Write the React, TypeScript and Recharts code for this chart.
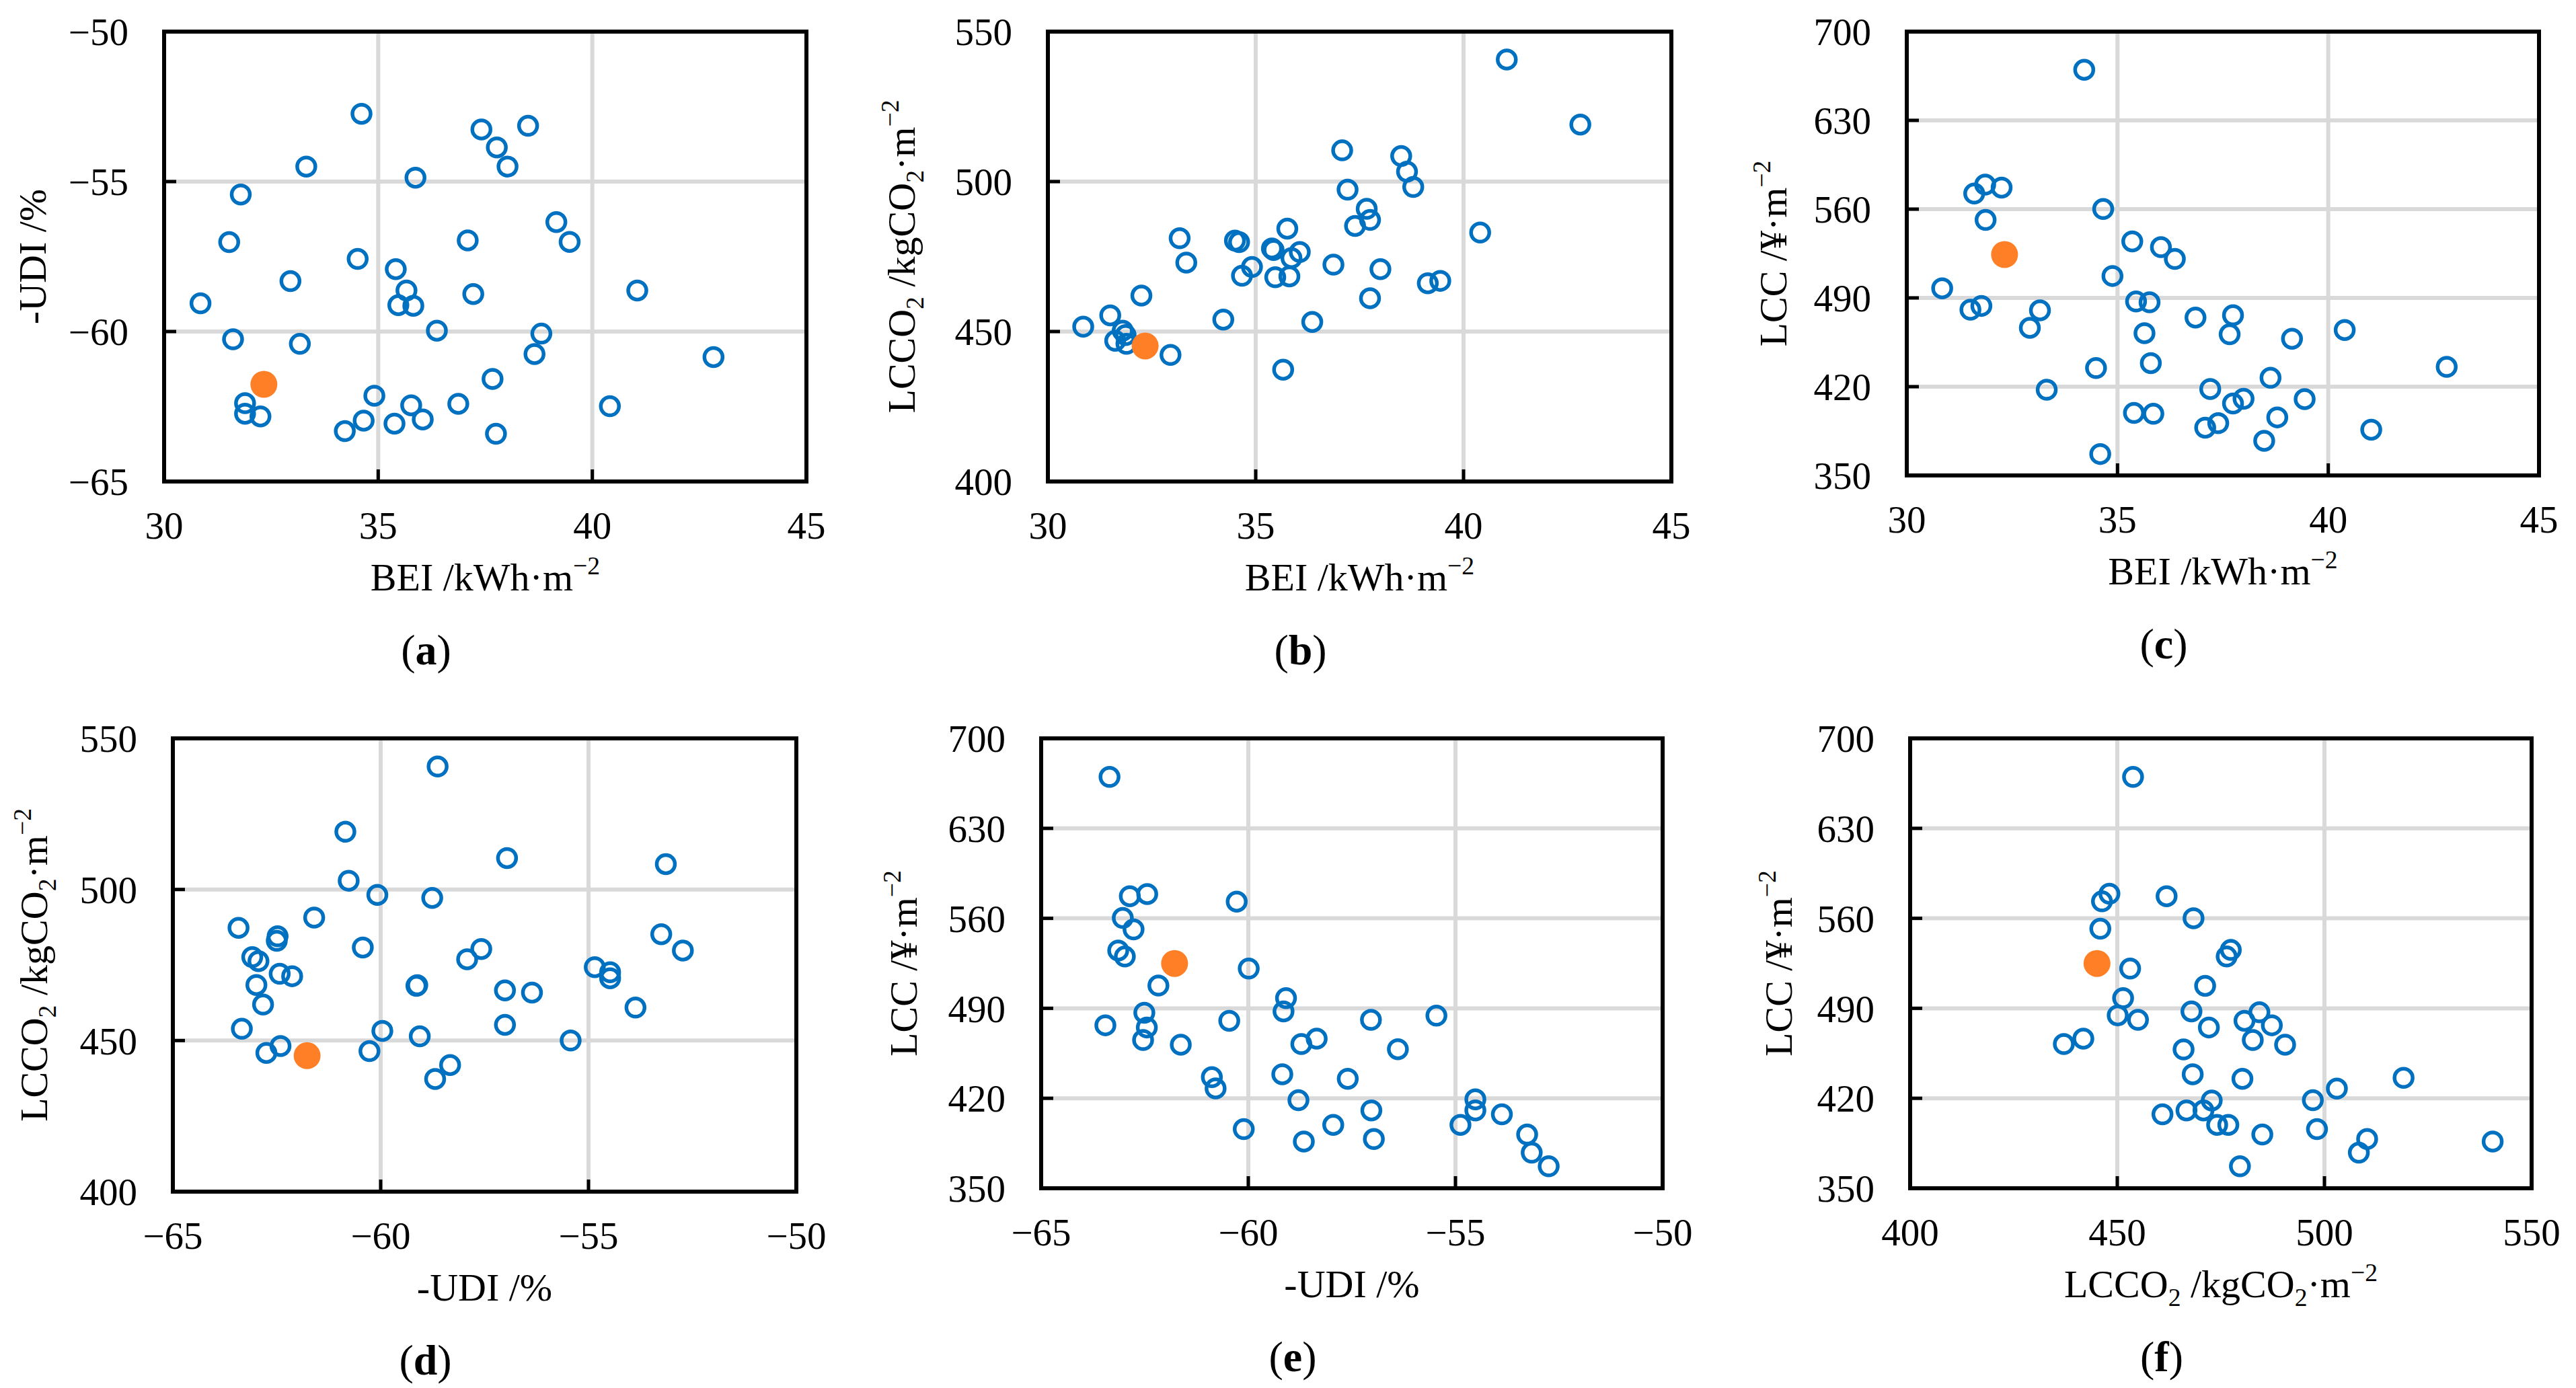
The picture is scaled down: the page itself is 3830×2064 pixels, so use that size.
import { CartesianGrid, ReferenceArea, Scatter, ScatterChart, XAxis, YAxis } from "recharts";

const FONT = '"Liberation Serif", "Times New Roman", serif';
const BLUE = "#0070C0";
const ORANGE = "#FF7F27";

// (a) BEI vs -UDI
const aBEI = [34.61, 37.41, 38.5, 37.77, 38.02, 33.32, 35.87, 31.79, 39.16, 31.52, 37.09, 39.47, 34.52, 35.41, 32.95, 35.66, 37.22, 41.05, 30.85, 35.47, 35.82, 36.37, 38.81, 31.61, 33.17, 38.65, 42.83, 37.67, 34.91, 31.89, 31.89, 32.25, 35.77, 36.87, 40.41, 34.66, 36.04, 35.38, 34.22, 37.75];
const aUDI = [-52.74, -53.26, -53.14, -53.86, -54.5, -54.5, -54.87, -55.43, -56.35, -57.02, -56.96, -57.01, -57.58, -57.92, -58.32, -58.63, -58.75, -58.63, -59.06, -59.12, -59.14, -59.97, -60.07, -60.26, -60.41, -60.75, -60.85, -61.58, -62.14, -62.39, -62.74, -62.83, -62.46, -62.41, -62.49, -62.97, -62.93, -63.07, -63.32, -63.41];
const aBase = [32.33, -61.76];

// (b) BEI vs LCCO2
const bBEI = [41.04, 42.81, 37.08, 38.5, 38.64, 38.79, 37.21, 37.67, 37.75, 37.39, 35.76, 33.17, 34.5, 34.6, 40.4, 35.39, 35.43, 36.06, 35.86, 33.33, 34.91, 36.87, 38.0, 34.67, 35.47, 35.81, 39.14, 39.44, 37.75, 32.25, 31.5, 34.22, 36.36, 30.85, 31.8, 31.87, 31.62, 31.89, 32.95, 35.66];
const bLCCO2 = [540.7, 519.0, 510.4, 508.5, 503.3, 498.2, 497.3, 490.9, 487.2, 485.2, 484.3, 481.1, 480.3, 479.8, 483.0, 477.7, 477.2, 476.5, 474.5, 473.0, 471.5, 472.3, 470.8, 468.6, 468.1, 468.4, 466.1, 466.9, 461.1, 462.0, 455.4, 454.0, 453.2, 451.6, 450.3, 448.8, 446.9, 445.9, 442.2, 437.3];
const bBase = [32.34, 445.2];

// (c) BEI vs LCC
const cBEI = [34.21, 31.86, 32.25, 31.6, 34.66, 31.87, 35.35, 36.03, 36.36, 34.88, 30.84, 35.44, 35.76, 31.77, 31.51, 33.16, 37.74, 36.85, 32.92, 40.39, 35.64, 37.66, 39.14, 35.79, 42.81, 34.49, 38.63, 33.32, 37.2, 37.99, 37.74, 39.44, 35.39, 35.85, 38.79, 37.39, 37.08, 41.02, 38.48, 34.59];
const cLCC = [669.9, 579.3, 577.0, 572.3, 560.1, 551.5, 534.6, 530.0, 520.7, 507.3, 497.6, 487.2, 486.5, 483.7, 480.7, 480.2, 476.3, 474.5, 466.4, 464.7, 462.2, 461.3, 457.8, 438.6, 435.6, 434.7, 427.0, 417.6, 418.2, 410.4, 406.7, 410.2, 399.3, 398.6, 395.8, 391.2, 387.7, 386.1, 377.3, 366.9];
const cBase = [32.32, 524.2];

// (d) -UDI vs LCCO2
const dUDI = [-58.63, -60.85, -56.96, -53.14, -60.77, -60.08, -58.76, -61.6, -63.42, -62.48, -62.5, -53.25, -60.43, -57.58, -52.73, -57.92, -63.09, -62.94, -54.85, -54.48, -54.48, -62.43, -62.13, -62.99, -59.14, -57.01, -56.36, -62.83, -53.87, -57.01, -63.34, -59.96, -59.06, -55.43, -62.41, -62.75, -60.27, -58.33, -58.69, -59.12];
const dLCCO2 = [540.7, 519.1, 510.4, 508.4, 502.9, 498.2, 497.2, 490.7, 487.3, 484.5, 483.0, 485.2, 480.8, 480.3, 479.8, 476.9, 477.6, 476.3, 474.3, 472.6, 470.6, 472.1, 471.3, 468.4, 468.1, 466.6, 465.9, 461.9, 460.9, 455.2, 453.9, 453.2, 451.4, 450.0, 448.2, 445.9, 446.5, 441.9, 437.3, 468.3];
const dBase = [-61.77, 445.0];

// (e) -UDI vs LCC
const eUDI = [-63.35, -62.86, -62.44, -60.28, -63.03, -62.77, -63.14, -62.98, -59.99, -62.17, -59.09, -59.15, -62.51, -63.45, -60.46, -57.04, -55.46, -62.45, -62.54, -61.63, -58.35, -58.72, -56.39, -60.88, -60.79, -59.18, -57.6, -58.79, -54.52, -54.52, -57.03, -53.88, -60.11, -57.95, -54.88, -53.27, -58.66, -56.97, -53.16, -52.75];
const eLCC = [670.0, 577.2, 578.9, 573.0, 560.3, 551.4, 535.0, 530.3, 520.9, 507.7, 497.9, 487.6, 486.6, 476.8, 480.3, 481.0, 484.3, 475.1, 465.3, 461.7, 466.4, 462.2, 458.2, 436.4, 427.7, 438.7, 435.2, 418.5, 419.2, 410.6, 410.6, 407.5, 396.0, 399.3, 399.3, 391.8, 386.4, 388.3, 377.7, 367.1];
const eBase = [-61.78, 524.9];

// (f) LCCO2 vs LCC
const fLCCO2 = [453.8, 448.1, 446.3, 461.9, 468.4, 445.9, 453.1, 477.4, 476.4, 471.2, 451.4, 450.1, 455.0, 467.9, 484.3, 480.7, 487.3, 472.1, 441.8, 437.1, 482.7, 490.5, 466.0, 468.2, 480.2, 519.1, 503.0, 472.8, 497.2, 466.7, 470.8, 460.9, 474.1, 476.8, 498.2, 485.0, 510.3, 540.6, 508.3, 479.6];
const fLCC = [670.0, 579.1, 573.2, 577.2, 560.1, 551.9, 520.9, 535.4, 530.3, 507.5, 497.9, 484.5, 481.0, 487.6, 486.9, 480.3, 476.8, 475.1, 466.4, 462.2, 465.3, 461.7, 458.0, 438.7, 435.2, 435.9, 427.5, 418.3, 418.5, 410.6, 410.6, 407.5, 399.3, 399.3, 396.0, 391.8, 388.3, 386.4, 377.7, 367.1];
const fBase = [445.1, 524.9];

const beiTicks = [30, 35, 40, 45];
const udiTicks = [-65, -60, -55, -50];
const lcco2Ticks = [400, 450, 500, 550];
const lccTicks = [350, 420, 490, 560, 630, 700];

type Part = { t: string; s?: "sub" | "sup" };
const beiTitle: Part[] = [{ t: "BEI /kWh·m" }, { t: "−2", s: "sup" }];
const udiTitle: Part[] = [{ t: "-UDI /%" }];
const lcco2Title: Part[] = [{ t: "LCCO" }, { t: "2", s: "sub" }, { t: " /kgCO" }, { t: "2", s: "sub" }, { t: "·m" }, { t: "−2", s: "sup" }];
const lccTitle: Part[] = [{ t: "LCC /¥·m" }, { t: "−2", s: "sup" }];

const TICK_SIZE = 57;
const TITLE_SIZE = 58;
const YW = 280; // y axis band
const XH = 310; // x axis band
const TOP = 30;
const RIGHT = 80;

function Rich({ parts, x, y, vertical }: { parts: Part[]; x: number; y: number; vertical?: boolean }) {
  let shift = 0;
  const spans = parts.map((p, i) => {
    const target = p.s === "sub" ? TITLE_SIZE * 0.22 : p.s === "sup" ? -TITLE_SIZE * 0.42 : 0;
    const dy = target - shift;
    shift = target;
    return (
      <tspan key={i} dy={dy} fontSize={p.s ? TITLE_SIZE * 0.65 : TITLE_SIZE}>
        {p.t}
      </tspan>
    );
  });
  return (
    <text
      x={x}
      y={y}
      textAnchor="middle"
      fontFamily={FONT}
      fontSize={TITLE_SIZE}
      fill="#000"
      transform={vertical ? `rotate(-90 ${x} ${y})` : undefined}
    >
      {spans}
    </text>
  );
}

const fmt = (v: number) => (v < 0 ? `\u2212${-v}` : `${v}`);

const Ring = (p: any) => <circle cx={p.cx} cy={p.cy} r={13.5} fill="none" stroke={BLUE} strokeWidth={5.5} />;
const Dot = (p: any) => <circle cx={p.cx} cy={p.cy} r={20} fill={ORANGE} />;

type PanelProps = {
  xs: number[];
  ys: number[];
  base: number[];
  xTicks: number[];
  yTicks: number[];
  xTitle: Part[];
  yTitle: Part[];
  tag: string;
  box: { L: number; T: number; W: number; H: number };
  titleOff: number;
};

function Panel({ xs, ys, base, xTicks, yTicks, xTitle, yTitle, tag, box, titleOff }: PanelProps) {
  const data = xs.map((x, i) => ({ x, y: ys[i] }));
  const baseData = [{ x: base[0], y: base[1] }];
  const xd: [number, number] = [xTicks[0], xTicks[xTicks.length - 1]];
  const yd: [number, number] = [yTicks[0], yTicks[yTicks.length - 1]];
  const width = YW + box.W + RIGHT;
  const height = TOP + box.H + XH;
  const bottom = TOP + box.H;
  const cx = YW + box.W / 2;

  return (
    <div style={{ position: "absolute", left: box.L - YW, top: box.T - TOP }}>
      <ScatterChart width={width} height={height} margin={{ top: TOP, right: RIGHT, left: 0, bottom: 0 }}>
        <CartesianGrid stroke="#d9d9d9" strokeWidth={6} />
        <XAxis
          type="number"
          dataKey="x"
          domain={xd}
          ticks={xTicks}
          interval={0}
          allowDataOverflow
          height={XH}
          axisLine={false}
          tickSize={-18}
          tickMargin={63}
          tickLine={{ stroke: "#000", strokeWidth: 5 }}
          tickFormatter={fmt}
          tick={{ fill: "#000", fontSize: TICK_SIZE, fontFamily: FONT }}
          label={{
            content: () => (
              <g>
                <Rich parts={xTitle} x={cx} y={bottom + 162} />
                <text x={cx - 88} y={bottom + 272} textAnchor="middle" fontFamily={FONT} fontSize={64} fill="#000">
                  <tspan>(</tspan>
                  <tspan fontWeight="bold">{tag}</tspan>
                  <tspan>)</tspan>
                </text>
              </g>
            ),
          }}
        />
        <YAxis
          type="number"
          dataKey="y"
          domain={yd}
          ticks={yTicks}
          interval={0}
          allowDataOverflow
          width={YW}
          axisLine={false}
          tickSize={-18}
          tickMargin={71}
          tickLine={{ stroke: "#000", strokeWidth: 5 }}
          tickFormatter={fmt}
          tick={{ fill: "#000", fontSize: TICK_SIZE, fontFamily: FONT }}
          label={{
            content: () => <Rich parts={yTitle} x={YW - titleOff + 18} y={TOP + box.H / 2} vertical />,
          }}
        />
        <ReferenceArea x1={xd[0]} x2={xd[1]} y1={yd[0]} y2={yd[1]} fill="none" fillOpacity={0} stroke="#000" strokeWidth={6} />
        <Scatter data={data} shape={Ring} isAnimationActive={false} />
        <Scatter data={baseData} shape={Dot} isAnimationActive={false} />
      </ScatterChart>
    </div>
  );
}

export default function App() {
  return (
    <div style={{ position: "absolute", left: 0, top: 0, width: 3830, height: 2064, background: "#fff", overflow: "hidden" }}>
      <Panel xs={aBEI} ys={aUDI} base={aBase} xTicks={beiTicks} yTicks={udiTicks} xTitle={beiTitle} yTitle={udiTitle} tag="a" box={{ L: 244, T: 47, W: 955, H: 669 }} titleOff={194} />
      <Panel xs={bBEI} ys={bLCCO2} base={bBase} xTicks={beiTicks} yTicks={lcco2Ticks} xTitle={beiTitle} yTitle={lcco2Title} tag="b" box={{ L: 1558, T: 47, W: 927, H: 669 }} titleOff={216} />
      <Panel xs={cBEI} ys={cLCC} base={cBase} xTicks={beiTicks} yTicks={lccTicks} xTitle={beiTitle} yTitle={lccTitle} tag="c" box={{ L: 2835, T: 47, W: 940, H: 660 }} titleOff={197} />
      <Panel xs={dUDI} ys={dLCCO2} base={dBase} xTicks={udiTicks} yTicks={lcco2Ticks} xTitle={udiTitle} yTitle={lcco2Title} tag="d" box={{ L: 257, T: 1098, W: 927, H: 674 }} titleOff={205} />
      <Panel xs={eUDI} ys={eLCC} base={eBase} xTicks={udiTicks} yTicks={lccTicks} xTitle={udiTitle} yTitle={lccTitle} tag="e" box={{ L: 1548, T: 1098, W: 924, H: 669 }} titleOff={203} />
      <Panel xs={fLCCO2} ys={fLCC} base={fBase} xTicks={lcco2Ticks} yTicks={lccTicks} xTitle={lcco2Title} yTitle={lccTitle} tag="f" box={{ L: 2840, T: 1098, W: 924, H: 669 }} titleOff={194} />
    </div>
  );
}
